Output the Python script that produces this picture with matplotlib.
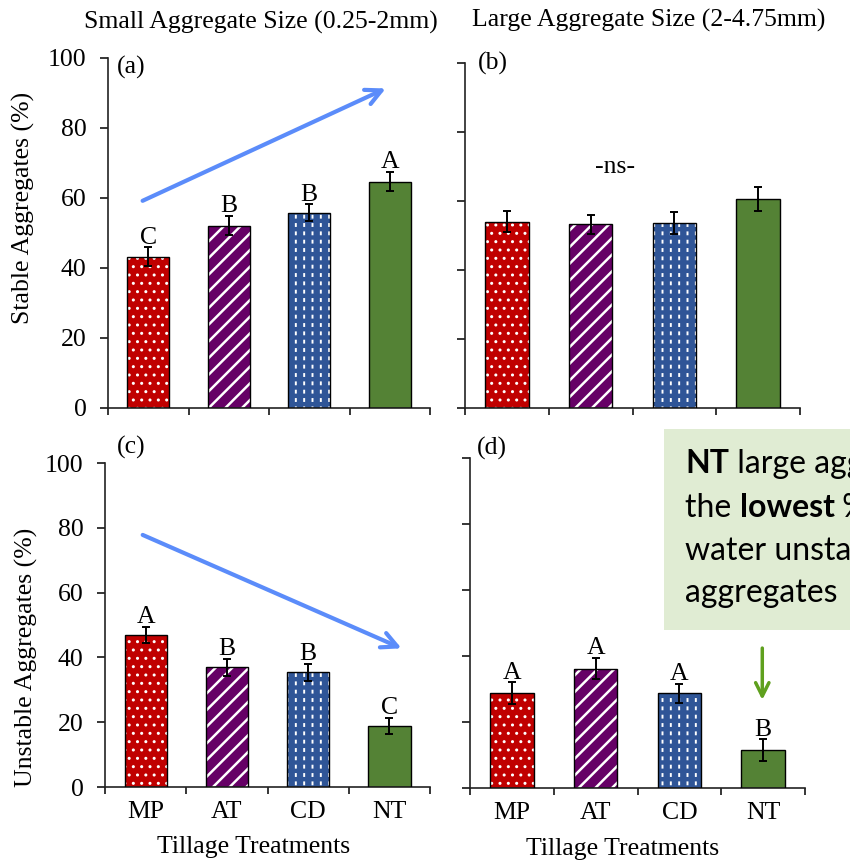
import matplotlib
matplotlib.use('Agg')
import matplotlib.pyplot as plt
import numpy as np
from matplotlib.patches import Rectangle
from matplotlib.text import Annotation

plt.rcParams['font.family'] = ['Liberation Serif', 'DejaVu Serif']

# data
categories = ['MP', 'AT', 'CD', 'NT']
stable_small = [43.2, 52.1, 55.8, 64.7]
stable_small_err = [2.7, 2.8, 2.4, 2.7]
stable_large = [54.0, 53.2, 53.6, 60.6]
stable_large_err = [3.0, 2.8, 3.3, 3.5]
unstable_small = [46.9, 36.9, 35.4, 18.9]
unstable_small_err = [2.6, 2.6, 2.6, 2.5]
unstable_large = [28.7, 36.2, 28.7, 11.5]
unstable_large_err = [3.3, 3.3, 2.8, 3.2]

letters_a = ['C', 'B', 'B', 'A']
letters_c = ['A', 'B', 'B', 'C']
letters_d = ['A', 'A', 'A', 'B']

FS = 18.5

# bar styles: face, hatch, hatch colour, hatch width
styles = [
    ('#C00000', '..', 'white', 1.0),
    ('#660066', '//', 'white', 1.8),
    ('#2F5597', '||', 'white', 1.4),
    ('#548235', None, None, 1.0),
]
bar_w = 0.52


def hatched_bar(ax, x, h, face, hatch, hcol, hlw):
    with plt.rc_context({'hatch.linewidth': hlw}):
        b = ax.bar(x, h, width=bar_w, color=face, edgecolor=hcol if hcol else face,
                   hatch=hatch, linewidth=0, zorder=2)
        for p in b:
            if hasattr(p, 'set_hatch_linewidth'):
                p.set_hatch_linewidth(hlw)
    return b


def draw_panel(ax, vals, errs, letters=None):
    x = np.arange(len(categories))
    for i in range(len(categories)):
        face, hatch, hcol, hlw = styles[i]
        hatched_bar(ax, x[i], vals[i], face, hatch, hcol, hlw)
        if categories[i] == 'CD':
            # break the white lines into short dashes
            hatched_bar(ax, x[i], vals[i], 'none', '--', face, 3.2)
    ax.bar(x, vals, width=bar_w, fill=False, edgecolor='black', linewidth=1.0, zorder=3)
    ax.errorbar(x, vals, yerr=errs, fmt='none', ecolor='black', elinewidth=1.4,
                capsize=3, capthick=1.4, zorder=4)
    if letters:
        for i in range(len(categories)):
            ax.annotate(letters[i], (x[i], vals[i] + errs[i]), xytext=(0, -1),
                        textcoords='offset points', ha='center', va='bottom',
                        fontsize=FS)
    ax.set_xlim(-0.5, len(categories) - 0.5)
    ax.set_ylim(0, 100)
    ax.set_yticks(np.arange(0, 101, 20))
    ax.set_xticks(x)
    ax.set_xticks(np.arange(-0.5, len(categories), 1), minor=True)
    ax.tick_params(axis='x', which='major', length=0, pad=10, labelsize=FS)
    ax.tick_params(axis='x', which='minor', length=5, width=1.1, direction='out')
    ax.tick_params(axis='y', length=5.5, width=1.1, direction='out', pad=10, labelsize=FS)
    for s in ['top', 'right']:
        ax.spines[s].set_visible(False)
    for s in ['left', 'bottom']:
        ax.spines[s].set_linewidth(1.2)
        ax.spines[s].set_color('#222222')


W, H = 850, 867
fig = plt.figure(figsize=(W / 100, H / 100), dpi=100)


def rect(x0, y0, x1, y1):
    # pixel box (top-left origin) -> figure fraction
    return [x0 / W, (H - y1) / H, (x1 - x0) / W, (y1 - y0) / H]


ax_a = fig.add_axes(rect(108, 58, 430, 408))
ax_b = fig.add_axes(rect(465, 63, 800, 408))
ax_c = fig.add_axes(rect(105, 463, 430, 787))
ax_d = fig.add_axes(rect(470, 458, 805, 788))

draw_panel(ax_a, stable_small, stable_small_err, letters_a)
draw_panel(ax_b, stable_large, stable_large_err)
draw_panel(ax_c, unstable_small, unstable_small_err, letters_c)
draw_panel(ax_d, unstable_large, unstable_large_err, letters_d)

for ax in (ax_a, ax_b):
    ax.set_xticklabels([])
for ax in (ax_b, ax_d):
    ax.set_yticklabels([])
for ax in (ax_c, ax_d):
    ax.set_xticklabels(categories)
    ax.set_xlabel('Tillage Treatments', fontsize=FS)

ax_c.xaxis.set_label_coords(0.458, -0.150)
ax_d.xaxis.set_label_coords(0.454, -0.152)

ax_a.set_ylabel('Stable Aggregates (%)', fontsize=FS)
ax_a.yaxis.set_label_coords(-0.227, 0.571)
ax_c.set_ylabel('Unstable Aggregates (%)', fontsize=FS)
ax_c.yaxis.set_label_coords(-0.206, 0.40)

# panel labels
ax_a.text(0.028, 0.974, '(a)', transform=ax_a.transAxes, fontsize=FS, va='center')
ax_b.text(0.039, 1.0, '(b)', transform=ax_b.transAxes, fontsize=FS, va='center')
ax_c.text(0.037, 1.049, '(c)', transform=ax_c.transAxes, fontsize=FS, va='center')
ax_d.text(0.021, 1.03, '(d)', transform=ax_d.transAxes, fontsize=FS, va='center')

ax_b.text(1.29, 69.9, '-ns-', fontsize=FS, ha='center', va='center')

# column titles
fig.text(261 / W, 1 - 22 / H, 'Small Aggregate Size (0.25-2mm)', fontsize=FS,
         ha='center', va='center')
fig.text(649 / W, 1 - 20 / H, 'Large Aggregate Size (2-4.75mm)', fontsize=FS,
         ha='center', va='center')

# trend arrows
blue = '#5B8CFA'
ax_a.annotate('', xy=(2.95, 91.3), xytext=(-0.07, 59.2),
              arrowprops=dict(arrowstyle='->', color=blue, lw=3,
                              mutation_scale=28, shrinkA=0, shrinkB=0), zorder=5)
ax_c.annotate('', xy=(3.15, 42.8), xytext=(-0.036, 77.8),
              arrowprops=dict(arrowstyle='->', color=blue, lw=3,
                              mutation_scale=28, shrinkA=0, shrinkB=0), zorder=5)
ax_d.annotate('', xy=(2.99, 26.7), xytext=(2.99, 42.4),
              arrowprops=dict(arrowstyle='->', color='#5FA01E', lw=2.5,
                              mutation_scale=24, shrinkA=0, shrinkB=0), zorder=5)

# callout box
fig.add_artist(Rectangle((664 / W, 1 - 630 / H), 0.3, (630 - 429) / H,
                         transform=fig.transFigure, facecolor='#E0ECD3',
                         edgecolor='none', zorder=10))

note_font = ['Lato', 'DejaVu Sans']
note_size = 23
note_lines = [
    [('NT', 'bold'), (' large aggregates had', 'normal')],
    [('the ', 'normal'), ('lowest', 'bold'), (' % of', 'normal')],
    [('water unstable', 'normal')],
    [('aggregates', 'normal')],
]
baselines = [473, 516.7, 560, 602]
for parts, yb in zip(note_lines, baselines):
    prev = None
    for txt, weight in parts:
        if prev is None:
            prev = fig.text(685 / W, 1 - yb / H, txt, fontsize=note_size, fontweight=weight,
                            family=note_font, ha='left', va='baseline', zorder=11)
        else:
            t = Annotation(txt, xy=(1, H - yb), xycoords=(prev, 'figure pixels'),
                           fontsize=note_size, fontweight=weight, family=note_font,
                           ha='left', va='baseline', annotation_clip=False)
            t.set_zorder(11)
            fig.add_artist(t)
            prev = t

fig.savefig('out.png', dpi=100)
